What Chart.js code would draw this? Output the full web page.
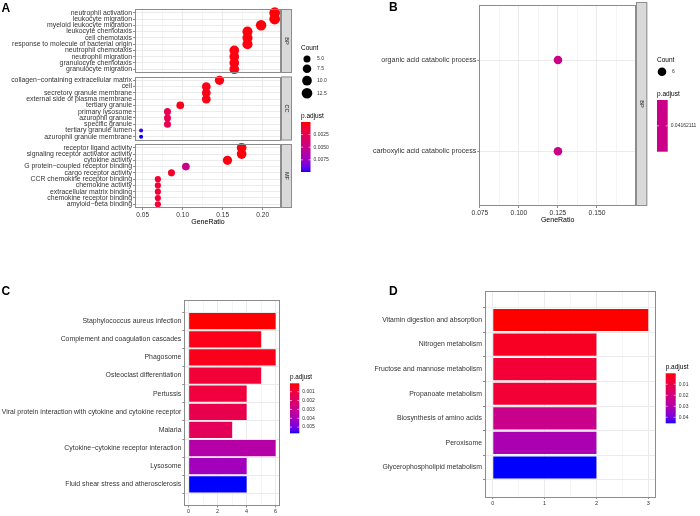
<!DOCTYPE html>
<html>
<head>
<meta charset="utf-8">
<script src="https://cdn.jsdelivr.net/npm/chart.js@4.4.1/dist/chart.umd.min.js"></script>
<style>
html, body { margin: 0; padding: 0; background: #fff; }
#wrap { position: relative; width: 700px; height: 516px; overflow: hidden; }
#wrap canvas { position: absolute; left: 0; top: 0; }
</style>
</head>
<body>
<div id="wrap">
  <canvas id="aBP" width="700" height="516"></canvas>
  <canvas id="aCC" width="700" height="516"></canvas>
  <canvas id="aMF" width="700" height="516"></canvas>
  <canvas id="pB" width="700" height="516"></canvas>
  <canvas id="pC" width="700" height="516"></canvas>
  <canvas id="pD" width="700" height="516"></canvas>
</div>
<script>
// ---- panel A : GO dotplot, three facets ----
const bpTerms = ['neutrophil activation', 'leukocyte migration', 'myeloid leukocyte migration', 'leukocyte chemotaxis',
  'cell chemotaxis', 'response to molecule of bacterial origin', 'neutrophil chemotaxis', 'neutrophil migration',
  'granulocyte chemotaxis', 'granulocyte migration'];
const bpRatio = [0.215, 0.215, 0.198, 0.181, 0.181, 0.181, 0.1645, 0.1645, 0.1645, 0.1645];
const bpCount = [13, 13, 12, 11, 11, 11, 10, 10, 10, 10];
const bpPadj = [0.0001, 0.0001, 0.0002, 0.0002, 0.0002, 0.0003, 0.0003, 0.0003, 0.0003, 0.0004];

const ccTerms = ['collagen\u2212containing extracellular matrix', 'cell', 'secretory granule membrane',
  'external side of plasma membrane', 'tertiary granule', 'primary lysosome', 'azurophil granule', 'specific granule',
  'tertiary granule lumen', 'azurophil granule membrane'];
const ccRatio = [0.146, 0.1295, 0.1295, 0.1295, 0.097, 0.081, 0.081, 0.081, 0.048, 0.048];
const ccCount = [9, 8, 8, 8, 6, 5, 5, 5, 3, 3];
const ccPadj = [0.0003, 0.0004, 0.0004, 0.0004, 0.0006, 0.0025, 0.0025, 0.0026, 0.0097, 0.0099];

const mfTerms = ['receptor ligand activity', 'signaling receptor activator activity', 'cytokine activity',
  'G protein\u2212coupled receptor binding', 'cargo receptor activity', 'CCR chemokine receptor binding',
  'chemokine activity', 'extracellular matrix binding', 'chemokine receptor binding', 'amyloid\u2212beta binding'];
const mfRatio = [0.1737, 0.1737, 0.156, 0.104, 0.086, 0.069, 0.069, 0.069, 0.069, 0.069];
const mfCount = [10, 10, 9, 6, 5, 4, 4, 4, 4, 4];
const mfPadj = [0.0002, 0.0002, 0.0003, 0.005, 0.001, 0.0014, 0.0014, 0.0015, 0.0015, 0.0016];

const aRatioTicks = [0.05, 0.10, 0.15, 0.20];
const aRatioMinor = [0.075, 0.125, 0.175];
const aCountBreaks = [5.0, 7.5, 10.0, 12.5];
const aPadjBreaks = [0.0025, 0.0050, 0.0075];

// ---- panel B : GO dotplot, one facet ----
const bTerms = ['organic acid catabolic process', 'carboxylic acid catabolic process'];
const bRatio = [0.125, 0.125];
const bCount = [6, 6];
const bPadj = [0.04162111, 0.04162111];
const bRatioTicks = [0.075, 0.100, 0.125, 0.150];
const bRatioMinor = [0.0875, 0.1125, 0.1375, 0.1625];

// ---- panel C : KEGG barplot ----
const cTerms = ['Staphylococcus aureus infection', 'Complement and coagulation cascades', 'Phagosome',
  'Osteoclast differentiation', 'Pertussis', 'Viral protein interaction with cytokine and cytokine receptor',
  'Malaria', 'Cytokine\u2212cytokine receptor interaction', 'Lysosome', 'Fluid shear stress and atherosclerosis'];
const cCount = [6, 5, 6, 5, 4, 4, 3, 6, 4, 4];
const cPadj = [0.00005, 0.0003, 0.00035, 0.0009, 0.001, 0.0014, 0.0017, 0.0036, 0.0041, 0.0057];
const cCountTicks = [0, 2, 4, 6];
const cCountMinor = [1, 3, 5];
const cPadjBreaks = [0.001, 0.002, 0.003, 0.004, 0.005];

// ---- panel D : KEGG barplot ----
const dTerms = ['Vitamin digestion and absorption', 'Nitrogen metabolism', 'Fructose and mannose metabolism',
  'Propanoate metabolism', 'Biosynthesis of amino acids', 'Peroxisome', 'Glycerophospholipid metabolism'];
const dCount = [3, 2, 2, 2, 2, 2, 2];
const dPadj = [0.00002, 0.0035, 0.0065, 0.0066, 0.023, 0.031, 0.0455];
const dCountTicks = [0, 1, 2, 3];
const dCountMinor = [0.5, 1.5, 2.5];
const dPadjBreaks = [0.01, 0.02, 0.03, 0.04];

const FONT = '"Liberation Sans", Arial, Helvetica, sans-serif';
const FRAME = '#8c8c8c';

// red -> blue gradient in Lab space (like ggplot's continuous colour scale)
function toLab(rgb) {
  const lin = rgb.map(v => { v /= 255; return v <= 0.04045 ? v / 12.92 : Math.pow((v + 0.055) / 1.055, 2.4); });
  const X = (0.4124 * lin[0] + 0.3576 * lin[1] + 0.1805 * lin[2]) / 0.95047;
  const Y = 0.2126 * lin[0] + 0.7152 * lin[1] + 0.0722 * lin[2];
  const Z = (0.0193 * lin[0] + 0.1192 * lin[1] + 0.9505 * lin[2]) / 1.08883;
  const f = t => t > 0.008856 ? Math.cbrt(t) : 7.787 * t + 16 / 116;
  return [116 * f(Y) - 16, 500 * (f(X) - f(Y)), 200 * (f(Y) - f(Z))];
}
function fromLab(lab) {
  const fy = (lab[0] + 16) / 116, fx = fy + lab[1] / 500, fz = fy - lab[2] / 200;
  const inv = t => t > 0.206893 ? t * t * t : (t - 16 / 116) / 7.787;
  const X = inv(fx) * 0.95047, Y = inv(fy), Z = inv(fz) * 1.08883;
  const lin = [3.2406 * X - 1.5372 * Y - 0.4986 * Z, -0.9689 * X + 1.8758 * Y + 0.0415 * Z, 0.0557 * X - 0.2040 * Y + 1.0570 * Z];
  return lin.map(v => {
    v = v <= 0.0031308 ? 12.92 * v : 1.055 * Math.pow(Math.max(v, 0), 1 / 2.4) - 0.055;
    return Math.round(Math.min(1, Math.max(0, v)) * 255);
  });
}
const LOW = toLab([255, 0, 0]), HIGH = toLab([0, 0, 255]);
function grad(t) {
  t = Math.min(1, Math.max(0, t));
  return 'rgb(' + fromLab(LOW.map((v, i) => v + (HIGH[i] - v) * t)).join(',') + ')';
}
function colourOf(p, lo, hi) { return grad(hi > lo ? (p - lo) / (hi - lo) : 0.5); }

const aAll = bpPadj.concat(ccPadj, mfPadj);
const aLo = 0.00002, aHi = Math.max(...aAll);
const cLo = Math.min(...cPadj), cHi = Math.max(...cPadj);
const dLo = Math.min(...dPadj), dHi = Math.max(...dPadj);

function dotRadius(c) { return 2 + 3.4 * Math.sqrt((c - 3) / 10); }

function isIn(v, list) { return list.some(m => Math.abs(m - v) < 1e-9); }

function frame(chart) {
  const a = chart.chartArea, ctx = chart.ctx;
  ctx.save();
  ctx.strokeStyle = FRAME; ctx.lineWidth = 1;
  ctx.strokeRect(Math.round(a.left) + 0.5, Math.round(a.top) + 0.5,
    Math.round(a.right - a.left) - 1, Math.round(a.bottom - a.top) - 1);
  ctx.restore();
}

function strip(ctx, x, y, w, h, label) {
  ctx.save();
  ctx.fillStyle = '#d9d9d9';
  ctx.fillRect(x, y, w, h);
  ctx.strokeStyle = FRAME; ctx.lineWidth = 1;
  ctx.strokeRect(x + 0.5, y + 0.5, w - 1, h - 1);
  ctx.translate(x + w / 2, y + h / 2);
  ctx.rotate(Math.PI / 2);
  ctx.fillStyle = '#1a1a1a';
  ctx.font = '5.5px ' + FONT;
  ctx.textAlign = 'center'; ctx.textBaseline = 'middle';
  ctx.fillText(label, 0, 0);
  ctx.restore();
}

function text(ctx, s, x, y, size, opts) {
  opts = opts || {};
  ctx.save();
  ctx.fillStyle = opts.color || '#000';
  ctx.font = (opts.bold ? 'bold ' : '') + size + 'px ' + FONT;
  ctx.textAlign = opts.align || 'left';
  ctx.textBaseline = opts.base || 'middle';
  ctx.fillText(s, x, y);
  ctx.restore();
}

function colourbar(ctx, x, y, w, h, lo, hi, breaks, fmt, solid) {
  ctx.save();
  if (solid) {
    ctx.fillStyle = solid;
  } else {
    const g = ctx.createLinearGradient(0, y, 0, y + h);
    for (let i = 0; i <= 20; i++) g.addColorStop(i / 20, grad(i / 20));
    ctx.fillStyle = g;
  }
  ctx.fillRect(x, y, w, h);
  ctx.strokeStyle = '#fff'; ctx.lineWidth = 0.6;
  breaks.forEach(v => {
    const ty = solid ? y + h / 2 : y + (v - lo) / (hi - lo) * h;
    ctx.beginPath();
    ctx.moveTo(x, ty); ctx.lineTo(x + 2, ty);
    ctx.moveTo(x + w - 2, ty); ctx.lineTo(x + w, ty);
    ctx.stroke();
    text(ctx, fmt(v), x + w + 3, ty, 5, { color: '#333' });
  });
  ctx.restore();
}

function xScale(min, max, majors, minors, fmt, opts) {
  const show = opts.show;
  return {
    type: 'linear', min: min, max: max,
    afterBuildTicks: s => { s.ticks = majors.concat(minors).sort((p, q) => p - q).map(v => ({ value: v })); },
    afterFit: s => { s.height = opts.height; },
    border: { display: false },
    grid: {
      color: c => isIn(c.tick.value, majors) ? '#ebebeb' : '#f5f5f5',
      tickColor: c => isIn(c.tick.value, majors) ? FRAME : 'rgba(0,0,0,0)',
      tickLength: 2, drawTicks: show, lineWidth: 1
    },
    ticks: {
      display: show, autoSkip: false, maxRotation: 0, minRotation: 0, padding: 1,
      color: '#333', font: { family: FONT, size: opts.font || 6.5 },
      callback: v => isIn(v, majors) ? fmt(v) : ''
    },
    title: {
      display: !!opts.title, text: opts.title || '', color: '#000',
      font: { family: FONT, size: 7 }, padding: { top: 1, bottom: 0 }
    }
  };
}

function yScale(terms, width, size) {
  return {
    type: 'linear', min: 0.4, max: terms.length + 0.6, reverse: true,
    afterBuildTicks: s => { s.ticks = terms.map((t, i) => ({ value: i + 1 })); },
    afterFit: s => { s.width = width; },
    border: { display: false },
    grid: { color: '#ebebeb', tickColor: FRAME, tickLength: 2, lineWidth: 1 },
    ticks: {
      autoSkip: false, padding: 1, color: '#333',
      font: { family: FONT, size: size },
      callback: v => terms[Math.round(v) - 1]
    }
  };
}

const YW = 200;
function pad(box, xh) {
  return { left: box.l - YW, right: 700 - box.r, top: box.t, bottom: 516 - box.b - xh };
}

function dotChart(id, box, terms, ratio, count, padj, lo, hi, xs, xh, ysize, extra) {
  return new Chart(document.getElementById(id), {
    type: 'scatter',
    data: {
      datasets: [{
        data: ratio.map((r, i) => ({ x: r, y: i + 1 })),
        pointRadius: count.map(c => (count.every(k => k === count[0]) ? 4.3 : dotRadius(c))),
        pointBackgroundColor: padj.map(p => colourOf(p, lo, hi)),
        pointBorderWidth: 0,
        clip: false
      }]
    },
    options: {
      responsive: false, animation: false, devicePixelRatio: 1,
      layout: { padding: pad(box, xh) },
      plugins: { legend: { display: false }, tooltip: { enabled: false } },
      scales: { x: xs, y: yScale(terms, YW, ysize) }
    },
    plugins: [{ id: 'extra', afterDraw: ch => { frame(ch); if (extra) extra(ch.ctx); } }]
  });
}

function barChart(id, box, terms, count, padj, lo, hi, xs, xh, ysize, extra) {
  return new Chart(document.getElementById(id), {
    type: 'bar',
    data: {
      datasets: [{
        data: count.map((c, i) => ({ x: c, y: i + 1 })),
        backgroundColor: padj.map(p => colourOf(p, lo, hi)),
        borderWidth: 0, barPercentage: 0.9, categoryPercentage: 1
      }]
    },
    options: {
      indexAxis: 'y',
      responsive: false, animation: false, devicePixelRatio: 1,
      layout: { padding: pad(box, xh) },
      plugins: { legend: { display: false }, tooltip: { enabled: false } },
      scales: { x: xs, y: yScale(terms, YW, ysize) }
    },
    plugins: [{ id: 'extra', afterDraw: ch => { frame(ch); if (extra) extra(ch.ctx); } }]
  });
}

// panel A boxes
const boxBP = { l: 135, r: 281, t: 9, b: 73 };
const boxCC = { l: 135, r: 281, t: 76.5, b: 140.5 };
const boxMF = { l: 135, r: 281, t: 144, b: 208 };
const aMin = 0.0404, aMax = 0.2229;
const f2 = v => v.toFixed(2);

dotChart('aBP', boxBP, bpTerms, bpRatio, bpCount, bpPadj, aLo, aHi,
  xScale(aMin, aMax, aRatioTicks, aRatioMinor, f2, { show: false, height: 0 }), 0, 6.9, ctx => {
    text(ctx, 'A', 1.5, 11.7, 12, { bold: true, base: 'alphabetic' });
    strip(ctx, 281, boxBP.t, 11, boxBP.b - boxBP.t, 'BP');
    strip(ctx, 281, boxCC.t, 11, boxCC.b - boxCC.t, 'CC');
    strip(ctx, 281, boxMF.t, 11, boxMF.b - boxMF.t, 'MF');
    // Count legend
    text(ctx, 'Count', 301, 48, 6.5);
    const cy = [59, 68.7, 80.7, 93.3];
    aCountBreaks.forEach((c, i) => {
      ctx.fillStyle = '#000';
      ctx.beginPath(); ctx.arc(307, cy[i], dotRadius(c), 0, Math.PI * 2); ctx.fill();
      text(ctx, c.toFixed(1), 317, cy[i], 5, { color: '#333' });
    });
    // p.adjust legend
    text(ctx, 'p.adjust', 301, 116, 6.5);
    colourbar(ctx, 301, 122, 9.5, 50, aLo, aHi, aPadjBreaks, v => v.toFixed(4));
  });
dotChart('aCC', boxCC, ccTerms, ccRatio, ccCount, ccPadj, aLo, aHi,
  xScale(aMin, aMax, aRatioTicks, aRatioMinor, f2, { show: false, height: 0 }), 0, 6.9);
dotChart('aMF', boxMF, mfTerms, mfRatio, mfCount, mfPadj, aLo, aHi,
  xScale(aMin, aMax, aRatioTicks, aRatioMinor, f2, { show: true, height: 18, title: 'GeneRatio' }), 18, 6.9);

// panel B
const boxB = { l: 479.3, r: 636, t: 2, b: 206 };
dotChart('pB', boxB, bTerms, bRatio, bCount, bPadj, 0, 0,
  xScale(0.0746, 0.175, bRatioTicks, bRatioMinor, v => v.toFixed(3), { show: true, height: 18, title: 'GeneRatio', font: 6.7 }),
  18, 7.1, ctx => {
    text(ctx, 'B', 389, 11, 12, { bold: true, base: 'alphabetic' });
    strip(ctx, 636, boxB.t, 11.3, boxB.b - boxB.t, 'BP');
    text(ctx, 'Count', 657, 60, 6.5);
    ctx.fillStyle = '#000';
    ctx.beginPath(); ctx.arc(662, 71.7, 4.3, 0, Math.PI * 2); ctx.fill();
    text(ctx, String(bCount[0]), 672, 71.7, 5, { color: '#333' });
    text(ctx, 'p.adjust', 657, 94, 6.5);
    colourbar(ctx, 657, 100, 10.7, 51.7, 0, 0, [bPadj[0]], v => String(v), grad(0.5));
  });

// panel C
const boxC = { l: 184.3, r: 280, t: 300, b: 505.5 };
barChart('pC', boxC, cTerms, cCount, cPadj, cLo, cHi,
  xScale(-0.3, 6.3, cCountTicks, cCountMinor, v => String(v), { show: true, height: 8, font: 5.5 }),
  8, 6.9, ctx => {
    text(ctx, 'C', 1.5, 295, 12, { bold: true, base: 'alphabetic' });
    text(ctx, 'p.adjust', 290, 377.7, 6.3);
    colourbar(ctx, 290, 383.3, 9.3, 50, cLo, cHi, cPadjBreaks, v => v.toFixed(3));
  });

// panel D
const boxD = { l: 485, r: 656, t: 290.5, b: 497 };
barChart('pD', boxD, dTerms, dCount, dPadj, dLo, dHi,
  xScale(-0.15, 3.15, dCountTicks, dCountMinor, v => String(v), { show: true, height: 10, font: 5.5 }),
  10, 6.9, ctx => {
    text(ctx, 'D', 389, 294.5, 12, { bold: true, base: 'alphabetic' });
    text(ctx, 'p.adjust', 665.7, 367.7, 6.5);
    colourbar(ctx, 665.7, 373.3, 10, 50, dLo, dHi, dPadjBreaks, v => v.toFixed(2));
  });
</script>
</body>
</html>
